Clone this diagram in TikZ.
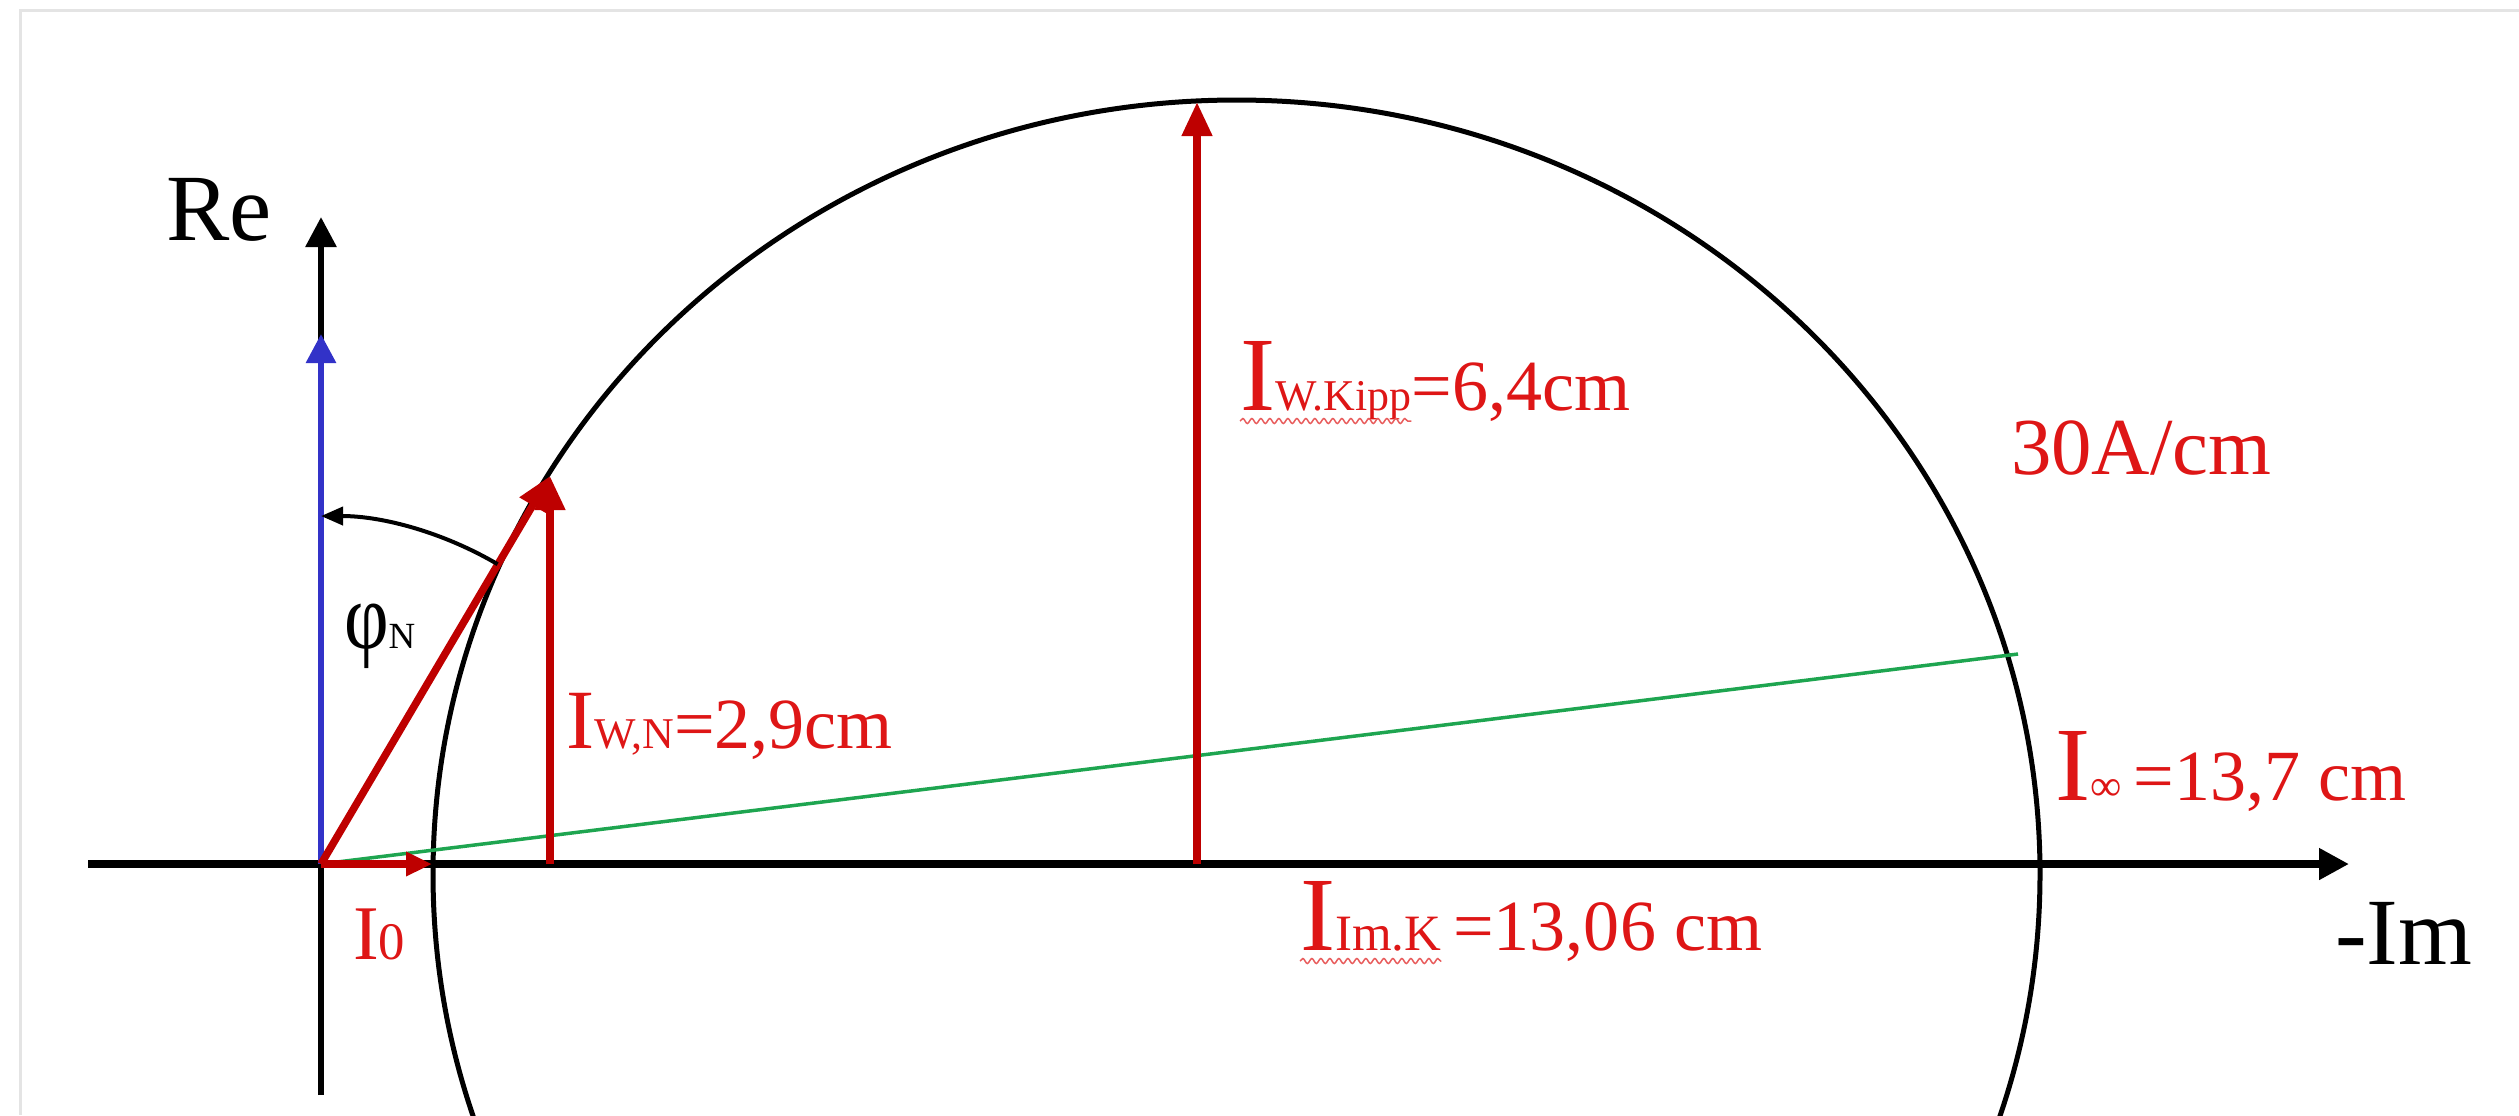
\documentclass[tikz,border=0pt]{standalone}
\usepackage{fontspec}
\setmainfont{Liberation Serif}
\usetikzlibrary{arrows.meta,calc,decorations.pathmorphing}
\definecolor{arrred}{RGB}{190,0,0}
\definecolor{txtred}{RGB}{222,22,22}
\definecolor{vblue}{RGB}{50,50,200}
\definecolor{vgreen}{RGB}{30,165,80}
\definecolor{framegray}{RGB}{228,228,228}
\newcommand{\dgBig}{\fontsize{30}{34}\selectfont}
\newcommand{\dgMid}{\fontsize{24}{28}\selectfont}
\newcommand{\dgVal}{\fontsize{20.5}{24}\selectfont}
\newcommand{\dgSub}{\fontsize{12.5}{14}\selectfont}
\newcommand{\dgAx}{\fontsize{27}{30}\selectfont}
\begin{document}
\begin{tikzpicture}[x=0.1mm,y=-0.1mm,
  lbl/.style={inner sep=0pt,outer sep=0pt,anchor=base west},
  redlbl/.style={lbl,text=txtred},
  haxis/.style={line width=0.85mm,-{Triangle[length=3mm,width=3mm]}},
  vaxis/.style={line width=0.6mm,-{Triangle[length=3mm,width=3mm]}},
  bluevec/.style={vblue,line width=0.6mm,-{Triangle[length=2.9mm,width=2.9mm]}},
  redvec/.style={arrred,line width=0.75mm,-{Triangle[length=3.4mm,width=2.9mm]}},
  smallred/.style={arrred,line width=0.75mm,-{Triangle[length=2.6mm,width=2.3mm]}},
  circ/.style={line width=0.5mm},
  greenline/.style={vgreen,line width=0.35mm},
  anglearc/.style={line width=0.4mm,-{Triangle[length=2.2mm,width=1.8mm]}},
  wavy/.style={txtred!70,line width=0.15mm,decorate,decoration={snake,amplitude=0.25mm,segment length=0.9mm}},
  framel/.style={framegray,line width=0.3mm}]
\useasboundingbox (0,0) rectangle (2519,1115);
\clip (0,0) rectangle (2519,1115);
% frame
\coordinate (FTL) at (20,10);
\coordinate (FTR) at (2519,10);
\coordinate (FBL) at (20,1115);
\draw[framel] (FTR) -- (FTL) -- (FBL);
% key points
\coordinate (O) at (321,864);
\coordinate (ReTop) at (321,217);
\coordinate (ReBot) at (321,1095);
\coordinate (ImL) at (88,864);
\coordinate (ImR) at (2349,864);
\coordinate (B) at (321,334);
\coordinate (N) at (550,476);
\coordinate (NB) at (550,864);
\coordinate (I0t) at (432,864);
\coordinate (K) at (1197,102);
\coordinate (KB) at (1197,864);
\coordinate (G) at (2018,654);
\coordinate (C) at (1236.5,874);
% circle (slightly flattened, as in the picture)
\draw[circ] (C) ellipse[x radius=80.35mm, y radius=77.4mm];
% axes
\draw[haxis] (ImL) -- (ImR);
\draw[vaxis] (ReBot) -- (ReTop);
% green line
\draw[greenline] (O) -- (G);
% vectors
\draw[bluevec] (O) -- (B);
\draw[redvec] (O) -- (N);
\draw[redvec] (NB) -- (N);
\draw[redvec] (KB) -- (K);
\draw[smallred] (O) -- (I0t);
% angle arc
\draw[anglearc] ($(O)+(59.5:34.8mm)$) arc[start angle=59.5,end angle=90,radius=34.8mm];
% axis labels
\node[lbl] (Re) at (166,240) {\dgAx Re};
\node[lbl] (Im) at (2335,964) {\dgAx -Im};
% phi_N
\node[lbl] (phi) at (344,648) {\fontsize{22}{26}\selectfont\scalebox{1}[1.22]{φ}};
\node[lbl] (phiN) at (phi.base east) {\fontsize{10.5}{12}\selectfont N};
% I_W,N
\node[redlbl] (wnI) at (566,748) {\dgMid I};
\node[redlbl] (wnS) at (wnI.base east) {\dgSub W,N};
\node[redlbl] (wnV) at (wnS.base east) {\dgVal =2,9cm};
% I_W.Kipp
\node[redlbl] (kI) at (1240,410) {\dgBig I};
\node[redlbl] (kS) at (kI.base east) {\dgSub W.Kipp};
\node[redlbl] (kV) at (kS.base east) {\dgVal =6,4cm};
\draw[wavy] ([yshift=-1.1mm]kI.base west) -- ([yshift=-1.1mm]kS.base east);
% I_Im.K
\node[redlbl] (mI) at (1300,950) {\dgBig I};
\node[redlbl] (mS) at (mI.base east) {\fontsize{14.5}{17}\selectfont Im.K};
\node[redlbl] (mV) at (mS.base east) {\dgVal\,=13,06 cm};
\draw[wavy] ([yshift=-1.1mm]mI.base west) -- ([yshift=-1.1mm]mS.base east);
% I_inf
\node[redlbl] (iI) at (2055,800) {\dgBig I};
\node[redlbl] (iS) at (iI.base east) {\dgSub ∞};
\node[redlbl] (iV) at (iS.base east) {\dgVal\,=13,7 cm};
% scale
\node[redlbl] (scale) at (2011,474) {\fontsize{23}{26}\selectfont 30A/cm};
% I0
\node[redlbl] (zI) at (353,959) {\fontsize{22}{26}\selectfont I};
\node[redlbl] (zS) at (zI.base east) {\fontsize{15}{17}\selectfont 0};
\end{tikzpicture}
\end{document}
